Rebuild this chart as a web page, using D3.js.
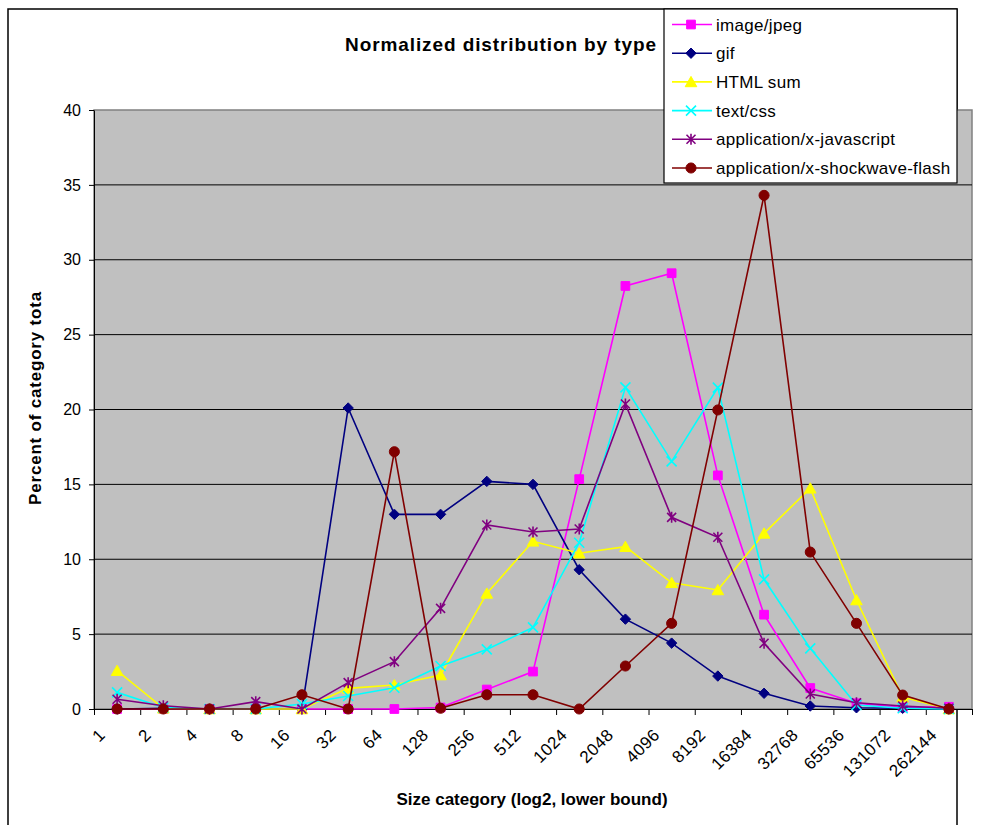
<!DOCTYPE html>
<html>
<head>
<meta charset="utf-8">
<script src="https://cdn.jsdelivr.net/npm/d3@7"></script>
<style>
  body { margin: 0; background: #fff; }
  svg { display: block; font-family: "Liberation Sans", Arial, sans-serif; }
</style>
</head>
<body>
<div id="chart"></div>
<script>
// size categories (log2 lower bound)
const categories = ["1","2","4","8","16","32","64","128","256","512","1024","2048","4096","8192","16384","32768","65536","131072","262144"];
const yTicks = [0, 5, 10, 15, 20, 25, 30, 35, 40];

// percent of category total
const jpegValues  = [0, 0, 0, 0, 0, 0, 0, 0.1, 1.3, 2.5, 15.35, 28.25, 29.1, 15.6, 6.3, 1.4, 0.38, 0.1, 0.15];
const gifValues   = [0, 0.05, 0, 0, 0, 20.1, 13.0, 13.0, 15.2, 15.0, 9.3, 6.0, 4.4, 2.2, 1.05, 0.2, 0.08, 0.05, 0];
const htmlValues  = [2.56, 0.05, 0, 0, 0, 1.38, 1.6, 2.27, 7.72, 11.2, 10.4, 10.84, 8.43, 7.95, 11.73, 14.74, 7.28, 0.8, 0];
const cssValues   = [1.11, 0.1, 0, 0, 0.33, 0.87, 1.42, 2.87, 3.98, 5.45, 11.1, 21.48, 16.54, 21.46, 8.66, 4.05, 0.27, 0.05, 0];
const jsValues    = [0.65, 0.22, 0, 0.49, 0, 1.76, 3.16, 6.72, 12.29, 11.82, 12.02, 20.37, 12.8, 11.47, 4.39, 1.0, 0.42, 0.2, 0.05];
const flashValues = [0, 0, 0, 0, 0.95, 0, 17.18, 0.05, 0.95, 0.95, 0, 2.87, 5.72, 19.97, 34.3, 10.48, 5.72, 0.93, 0];

const seriesNames = ["image/jpeg", "gif", "HTML sum", "text/css", "application/x-javascript", "application/x-shockwave-flash"];
const seriesColors = ["#FF00FF", "#000080", "#FFFF00", "#00FFFF", "#800080", "#800000"];
const seriesMarkers = ["square", "diamond", "triangle", "x", "asterisk", "circle"];
const seriesValues = [jpegValues, gifValues, htmlValues, cssValues, jsValues, flashValues];

const width = 982, height = 825;
const plot = {left: 94, right: 972, top: 110, bottom: 709};

const svg = d3.select("#chart").append("svg")
    .attr("width", width)
    .attr("height", height);

// outer chart frame
svg.append("rect")
    .attr("x", 8).attr("y", 9)
    .attr("width", 949).attr("height", 840)
    .attr("fill", "#fff")
    .attr("stroke", "#000")
    .attr("stroke-width", 1.5);

const x = d3.scaleBand()
    .domain(categories)
    .range([plot.left, plot.right])
    .padding(0);

const xEdge = d3.scaleLinear()
    .domain([0, categories.length])
    .range([plot.left, plot.right]);

const y = d3.scaleLinear()
    .domain([0, 40])
    .range([plot.bottom, plot.top]);

const cx = d => x(d) + x.bandwidth() / 2;

// plot area
svg.append("rect")
    .attr("x", plot.left).attr("y", plot.top)
    .attr("width", plot.right - plot.left)
    .attr("height", plot.bottom - plot.top)
    .attr("fill", "#C0C0C0")
    .attr("stroke", "#808080")
    .attr("stroke-width", 1.5);

// gridlines
svg.append("g")
    .selectAll("line")
    .data(yTicks.filter(v => v > 0 && v < 40))
    .enter().append("line")
    .attr("x1", plot.left).attr("x2", plot.right)
    .attr("y1", d => y(d)).attr("y2", d => y(d))
    .attr("stroke", "#000")
    .attr("stroke-width", 1);

// y axis
const yAxis = svg.append("g")
    .attr("transform", `translate(${plot.left},0)`)
    .call(d3.axisLeft(y).tickValues(yTicks).tickSize(5).tickPadding(8).tickSizeOuter(0));
yAxis.select(".domain").attr("stroke", "#000");
yAxis.selectAll("text")
    .attr("font-size", 16)
    .attr("font-family", "Liberation Sans, Arial, sans-serif")
    .attr("fill", "#000");

// x axis ticks between categories
const xAxis = svg.append("g")
    .attr("transform", `translate(0,${plot.bottom})`)
    .call(d3.axisBottom(xEdge).tickValues(d3.range(categories.length + 1)).tickSize(6).tickFormat("").tickSizeOuter(0));
xAxis.select(".domain").attr("stroke", "#000");

// x labels rotated
svg.append("g")
    .selectAll("text")
    .data(categories)
    .enter().append("text")
    .attr("transform", d => `translate(${cx(d) - 11},${plot.bottom + 27}) rotate(-45)`)
    .attr("text-anchor", "end")
    .attr("font-size", 17)
    .attr("letter-spacing", 0.4)
    .attr("fill", "#000")
    .text(d => d);

// marker shapes
function markerPath(type) {
    if (type === "square") return d3.symbol().type(d3.symbolSquare).size(76)();
    if (type === "diamond") return "M0,-5.2L5.2,0L0,5.2L-5.2,0Z";
    if (type === "triangle") return "M0,-5.5L5.8,4.8L-5.8,4.8Z";
    if (type === "circle") return d3.symbol().type(d3.symbolCircle).size(80)();
    if (type === "x") return "M-5,-5L5,5M-5,5L5,-5";
    if (type === "asterisk") return "M-4.5,-4.5L4.5,4.5M-4.5,4.5L4.5,-4.5M0,-5.5L0,5.5";
}

function drawMarker(g, type, color) {
    const filled = type !== "x" && type !== "asterisk";
    g.append("path")
        .attr("d", markerPath(type))
        .attr("fill", filled ? color : "none")
        .attr("stroke", color)
        .attr("stroke-width", filled ? 1 : 1.6);
}

const line = d3.line()
    .x((d, i) => cx(categories[i]))
    .y(d => y(d));

// series
seriesValues.forEach((vals, idx) => {
    const g = svg.append("g");
    g.append("path")
        .datum(vals)
        .attr("d", line)
        .attr("fill", "none")
        .attr("stroke", seriesColors[idx])
        .attr("stroke-width", 1.6);
    vals.forEach((v, i) => {
        const m = g.append("g")
            .attr("transform", `translate(${cx(categories[i])},${y(v)})`);
        drawMarker(m, seriesMarkers[idx], seriesColors[idx]);
    });
});

// title
svg.append("text")
    .attr("x", 501).attr("y", 51)
    .attr("text-anchor", "middle")
    .attr("font-size", 19)
    .attr("font-weight", "bold")
    .attr("letter-spacing", 0.9)
    .text("Normalized distribution by type");

// axis titles
svg.append("text")
    .attr("transform", `translate(41,398) rotate(-90)`)
    .attr("text-anchor", "middle")
    .attr("font-size", 17)
    .attr("font-weight", "bold")
    .attr("letter-spacing", 0.8)
    .text("Percent of category tota");

svg.append("text")
    .attr("x", 532).attr("y", 805)
    .attr("text-anchor", "middle")
    .attr("font-size", 17)
    .attr("font-weight", "bold")
    .text("Size category (log2, lower bound)");

// legend
const legend = svg.append("g");
legend.append("rect")
    .attr("x", 664).attr("y", 9)
    .attr("width", 293).attr("height", 174)
    .attr("fill", "#fff")
    .attr("stroke", "#000")
    .attr("stroke-width", 1.2);

seriesNames.forEach((name, idx) => {
    const ly = 24.5 + idx * 28.7;
    legend.append("line")
        .attr("x1", 672).attr("x2", 712)
        .attr("y1", ly).attr("y2", ly)
        .attr("stroke", seriesColors[idx])
        .attr("stroke-width", 1.6);
    const m = legend.append("g").attr("transform", `translate(691,${ly})`);
    drawMarker(m, seriesMarkers[idx], seriesColors[idx]);
    legend.append("text")
        .attr("x", 716).attr("y", ly + 6)
        .attr("font-size", 17)
        .attr("letter-spacing", 0.3)
        .text(name);
});
</script>
</body>
</html>
